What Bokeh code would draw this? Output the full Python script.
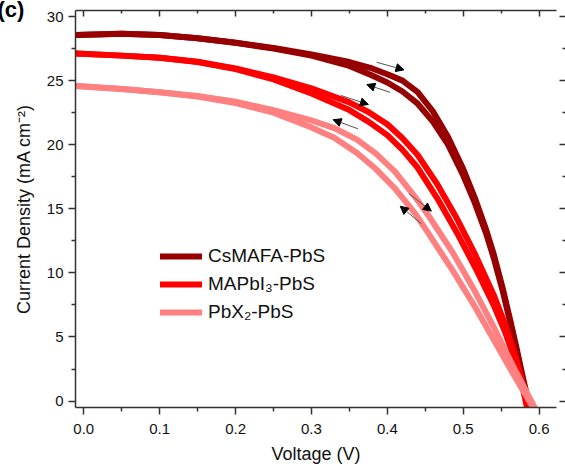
from bokeh.plotting import figure
from bokeh.models import (LinearAxis, FixedTicker, PrintfTickFormatter, Legend, LegendItem,
                          Arrow, NormalHead, ColumnDataSource, Range1d)
from bokeh.embed import file_html
from bokeh.resources import INLINE

# ---------------- data ----------------
cs_fwd_v = [-0.01, 0.05, 0.1, 0.15, 0.2, 0.25, 0.3, 0.35, 0.38, 0.4, 0.42, 0.44, 0.46, 0.48, 0.5, 0.515, 0.53, 0.54, 0.552, 0.562, 0.57, 0.578, 0.588]
cs_fwd_j = [28.55, 28.65, 28.55, 28.3, 27.95, 27.55, 27.05, 26.45, 25.95, 25.5, 25.0, 24.1, 22.6, 20.6, 18.1, 15.9, 13.4, 11.5, 8.8, 6.3, 4.2, 2.0, -0.6]
cs_rev_v = [-0.01, 0.05, 0.1, 0.15, 0.2, 0.25, 0.3, 0.35, 0.38, 0.4, 0.42, 0.44, 0.46, 0.48, 0.5, 0.515, 0.53, 0.54, 0.552, 0.562, 0.57, 0.578, 0.586]
cs_rev_j = [28.55, 28.65, 28.55, 28.3, 27.95, 27.5, 26.95, 26.15, 25.4, 24.85, 24.15, 23.2, 21.8, 20.0, 17.6, 15.5, 13.1, 11.2, 8.6, 6.1, 4.0, 1.8, -0.6]

ma_fwd_v = [-0.01, 0.05, 0.1, 0.15, 0.2, 0.25, 0.3, 0.35, 0.375, 0.4, 0.42, 0.44, 0.466, 0.492, 0.516, 0.54, 0.555, 0.567, 0.577, 0.586]
ma_fwd_j = [27.12, 26.95, 26.78, 26.47, 25.95, 25.25, 24.4, 23.3, 22.55, 21.6, 20.5, 19.2, 16.9, 14.2, 11.4, 8.3, 6.0, 3.8, 1.7, -0.5]
ma_rev_v = [-0.01, 0.05, 0.1, 0.15, 0.2, 0.25, 0.3, 0.35, 0.375, 0.4, 0.42, 0.44, 0.466, 0.492, 0.516, 0.54, 0.555, 0.567, 0.577, 0.584]
ma_rev_j = [27.12, 26.95, 26.78, 26.45, 25.9, 25.1, 24.0, 22.7, 21.8, 20.75, 19.6, 18.2, 15.8, 13.1, 10.4, 7.5, 5.4, 3.4, 1.4, -0.5]

pb_fwd_v = [-0.01, 0.05, 0.1, 0.15, 0.2, 0.25, 0.3, 0.33, 0.36, 0.385, 0.41, 0.437, 0.455, 0.486, 0.515, 0.54, 0.565, 0.595]
pb_fwd_j = [24.58, 24.35, 24.1, 23.8, 23.35, 22.7, 21.9, 21.3, 20.4, 19.3, 17.9, 15.9, 14.4, 11.6, 8.6, 5.8, 2.8, -0.6]
pb_rev_v = [-0.01, 0.05, 0.1, 0.15, 0.2, 0.25, 0.3, 0.33, 0.36, 0.385, 0.41, 0.437, 0.455, 0.486, 0.515, 0.54, 0.565, 0.593]
pb_rev_j = [24.58, 24.35, 24.1, 23.75, 23.25, 22.5, 21.35, 20.55, 19.35, 18.1, 16.6, 14.6, 13.0, 10.2, 7.4, 4.8, 2.2, -0.6]

series_names = ["CsMAFA-PbS", "MAPbI\u2083-PbS", "PbX\u2082-PbS"]
series_colors = ["#960000", "#ff0000", "#ff8080"]

# scan-direction arrows (data units): tail -> head
arrow_x0 = [0.386, 0.4035, 0.339, 0.3614, 0.4285, 0.445]
arrow_y0 = [26.43, 24.09, 23.84, 21.24, 16.17, 13.83]
arrow_x1 = [0.422, 0.373, 0.375, 0.3286, 0.458, 0.417]
arrow_y1 = [25.84, 24.69, 23.14, 21.95, 14.82, 15.2]

x_ticks = [0.0, 0.1, 0.2, 0.3, 0.4, 0.5, 0.6]
x_minor = [0.05, 0.15, 0.25, 0.35, 0.45, 0.55]
y_ticks = [0, 5, 10, 15, 20, 25, 30]
y_minor = [2.5, 7.5, 12.5, 17.5, 22.5, 27.5]

# ---------------- figure ----------------
FONT = "Liberation Sans"
AX = "#333333"

p = figure(width=565, height=468, x_range=Range1d(-0.0109, 0.6229), y_range=Range1d(-0.5, 30.47),
           output_backend="svg", toolbar_location=None, title="(c)",
           min_border_left=75, min_border_right=9, min_border_top=10, min_border_bottom=61)
p.outline_line_color = None
p.grid.visible = False
p.background_fill_color = "white"
p.border_fill_color = "white"

p.title.text_font = FONT
p.title.text_font_size = "22px"
p.title.text_font_style = "bold"
p.title.text_color = "black"
p.title.align = "left"
p.title.vertical_align = "middle"
p.title.offset = -78
p.title.standoff = -24

xt = FixedTicker(ticks=x_ticks, minor_ticks=x_minor)
yt = FixedTicker(ticks=y_ticks, minor_ticks=y_minor)

def style(ax):
    ax.axis_line_color = AX
    ax.axis_line_width = 1.5
    ax.major_tick_line_color = AX
    ax.minor_tick_line_color = AX
    ax.major_tick_line_width = 1.5
    ax.minor_tick_line_width = 1.5
    ax.major_label_text_font = FONT
    ax.major_label_text_font_size = "15px"
    ax.major_label_text_color = "#111111"
    ax.axis_label_text_font = FONT
    ax.axis_label_text_font_size = "18px"
    ax.axis_label_text_font_style = "normal"
    ax.axis_label_text_color = "#111111"

xa = p.xaxis[0]
xa.ticker = xt
xa.formatter = PrintfTickFormatter(format="%.1f")
xa.axis_label = "Voltage (V)"
style(xa)
xa.major_tick_out = 7
xa.major_tick_in = 0
xa.minor_tick_out = 4
xa.minor_tick_in = 0
xa.major_label_standoff = 9
xa.axis_label_standoff = 7

ya = p.yaxis[0]
ya.ticker = yt
ya.axis_label = "Current Density (mA cm\u207b\u00b2)"
style(ya)
ya.major_tick_out = 7
ya.major_tick_in = 0
ya.minor_tick_out = 4
ya.minor_tick_in = 0
ya.major_label_standoff = 5
ya.axis_label_standoff = 10

top = LinearAxis(ticker=xt, major_label_standoff=0)
style(top)
top.major_label_text_font_size = "1px"
top.major_label_text_color = None
top.major_tick_in = 6
top.major_tick_out = 0
top.minor_tick_in = 3
top.minor_tick_out = 0
p.add_layout(top, "above")

right = LinearAxis(ticker=yt, major_label_standoff=0)
style(right)
right.major_label_text_font_size = "1px"
right.major_label_text_color = None
right.axis_line_alpha = 0
right.major_tick_in = -3
right.major_tick_out = 9
right.minor_tick_in = -6
right.minor_tick_out = 9
p.add_layout(right, "right")

# ---------------- curves ----------------
curves = [
    (cs_fwd_v, cs_fwd_j, cs_rev_v, cs_rev_j),
    (ma_fwd_v, ma_fwd_j, ma_rev_v, ma_rev_j),
    (pb_fwd_v, pb_fwd_j, pb_rev_v, pb_rev_j),
]
items = []
for (fv, fj, rv, rj), name, col in zip(curves, series_names, series_colors):
    r1 = p.line(rv, rj, line_color=col, line_width=6, line_cap="round", line_join="round")
    r2 = p.line(fv, fj, line_color=col, line_width=6, line_cap="round", line_join="round")
    items.append(LegendItem(label=name, renderers=[r1]))

arrows = ColumnDataSource(dict(x0=arrow_x0, y0=arrow_y0, x1=arrow_x1, y1=arrow_y1))
p.add_layout(Arrow(source=arrows, x_start="x0", y_start="y0", x_end="x1", y_end="y1",
                   line_color="#555555", line_width=1,
                   end=NormalHead(size=8, fill_color="black", line_color="black", line_width=1)))

legend = Legend(items=items, location=(85, 84), padding=0, margin=0, spacing=6,
                glyph_width=42, glyph_height=20, label_height=20, label_standoff=6,
                label_text_font=FONT, label_text_font_size="19px", label_text_color="#111111",
                border_line_color=None, background_fill_alpha=0)
p.add_layout(legend, "center")

open("out.html", "w").write(file_html(p, INLINE))
